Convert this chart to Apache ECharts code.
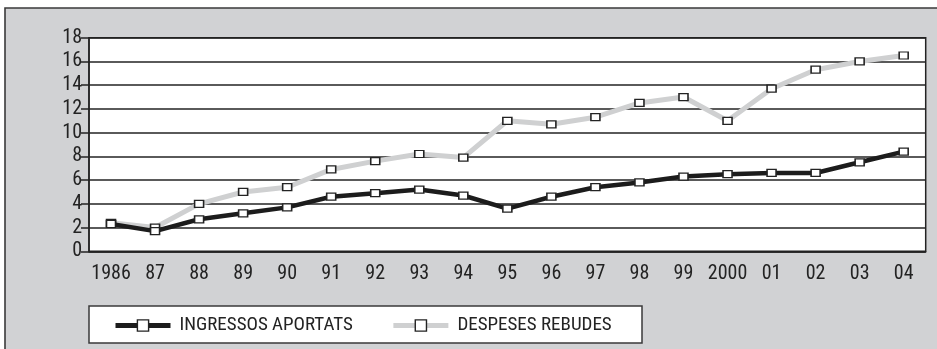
<!DOCTYPE html>
<html>
<head>
<meta charset="utf-8">
<script src="https://cdn.jsdelivr.net/npm/echarts@6/dist/echarts.min.js"></script>
<style>
  html, body { margin: 0; padding: 0; background: #ffffff; }
  #chart { width: 937px; height: 349px; }
</style>
</head>
<body>
<div id="chart"></div>
<script>
// Years along the x axis
const years = ['1986', '87', '88', '89', '90', '91', '92', '93', '94', '95',
               '96', '97', '98', '99', '2000', '01', '02', '03', '04'];

// Income contributed
const ingressosAportats = [2.3, 1.7, 2.7, 3.2, 3.7, 4.6, 4.9, 5.2, 4.7, 3.6,
                           4.6, 5.4, 5.8, 6.3, 6.5, 6.6, 6.6, 7.5, 8.4];

// Expenditure received
const despesesRebudes = [2.4, 2.0, 4.0, 5.0, 5.4, 6.9, 7.6, 8.2, 7.9, 11.0,
                         10.7, 11.3, 12.5, 13.0, 11.0, 13.7, 15.3, 16.0, 16.5];

// Y axis range
const yMin = 0, yMax = 18, yStep = 2;

// Pick a condensed face if one is installed, otherwise fall back to a regular sans
function pickFont() {
  const ctx = document.createElement('canvas').getContext('2d');
  const probe = 'INGRESSOS 1986';
  ctx.font = '40px monospace';
  const mono = ctx.measureText(probe).width;
  const candidates = ['Roboto Condensed', 'DejaVu Sans Condensed', 'Liberation Sans Narrow', 'Open Sans Condensed'];
  for (const f of candidates) {
    ctx.font = '40px "' + f + '", monospace';
    if (Math.abs(ctx.measureText(probe).width - mono) > 0.5) {
      const dj = f === 'DejaVu Sans Condensed';
      return { family: '"' + f + '"', axis: dj ? 18 : 20, legend: dj ? 17 : 19 };
    }
  }
  return { family: '"Liberation Sans", Arial, sans-serif', axis: 18, legend: 16 };
}
const font = pickFont();

const INK = '#232323';
const PANEL = '#d1d2d4';
const LIGHT = '#cfd0d1';

const chart = echarts.init(document.getElementById('chart'), null, { renderer: 'canvas' });

const markerStyle = { color: '#ffffff', borderColor: INK, borderWidth: 1.4 };

chart.setOption({
  animation: false,
  backgroundColor: '#ffffff',
  graphic: [
    { // grey panel behind everything
      type: 'rect', z: -10, silent: true,
      shape: { x: 5, y: 8, width: 960, height: 380 },
      style: { fill: PANEL, stroke: '#3a3a3a', lineWidth: 1.6 }
    },
    { // legend frame
      type: 'rect', z: -5, silent: true,
      shape: { x: 89, y: 306, width: 553, height: 37 },
      style: { fill: '#ffffff', stroke: '#3a3a3a', lineWidth: 1.5 }
    }
  ],
  grid: {
    left: 89, top: 37.7, right: 11.3, bottom: 97.7,
    show: true, backgroundColor: '#ffffff',
    borderColor: INK, borderWidth: 1.5
  },
  legend: {
    left: 108, top: 311,
    itemWidth: 55, itemHeight: 14, itemGap: 38,
    textStyle: { fontFamily: font.family, fontSize: font.legend, color: INK, padding: [0, 0, 0, 4] },
    data: [
      { name: 'INGRESSOS APORTATS', lineStyle: { color: '#1c1c1c', width: 5 },
        itemStyle: { color: '#ffffff', borderColor: INK, borderWidth: 1.4 } },
      { name: 'DESPESES REBUDES', lineStyle: { color: LIGHT, width: 5 },
        itemStyle: { color: '#ffffff', borderColor: INK, borderWidth: 1.4 } }
    ]
  },
  xAxis: {
    type: 'category',
    data: years,
    boundaryGap: true,
    axisLine: { lineStyle: { color: INK, width: 1.5 } },
    axisTick: { show: false },
    axisLabel: { fontFamily: font.family, fontSize: font.axis, color: INK, margin: 13, interval: 0 },
    splitLine: { show: false }
  },
  yAxis: {
    type: 'value',
    min: yMin, max: yMax, interval: yStep,
    axisLine: { show: true, lineStyle: { color: INK, width: 1.5 } },
    axisTick: { show: true, length: 8, lineStyle: { color: INK, width: 1.5 } },
    axisLabel: { fontFamily: font.family, fontSize: font.axis, color: INK, margin: 7 },
    splitLine: { show: true, lineStyle: { color: INK, width: 1.5 } }
  },
  series: [
    {
      name: 'INGRESSOS APORTATS',
      type: 'line',
      data: ingressosAportats,
      z: 4,
      symbol: 'rect', symbolSize: [9, 7], showAllSymbol: true,
      lineStyle: { color: '#1c1c1c', width: 4.5 },
      itemStyle: markerStyle
    },
    {
      name: 'DESPESES REBUDES',
      type: 'line',
      data: despesesRebudes,
      z: 3,
      symbol: 'rect', symbolSize: [9, 7], showAllSymbol: true,
      lineStyle: { color: LIGHT, width: 5 },
      itemStyle: markerStyle
    }
  ]
});
</script>
</body>
</html>
